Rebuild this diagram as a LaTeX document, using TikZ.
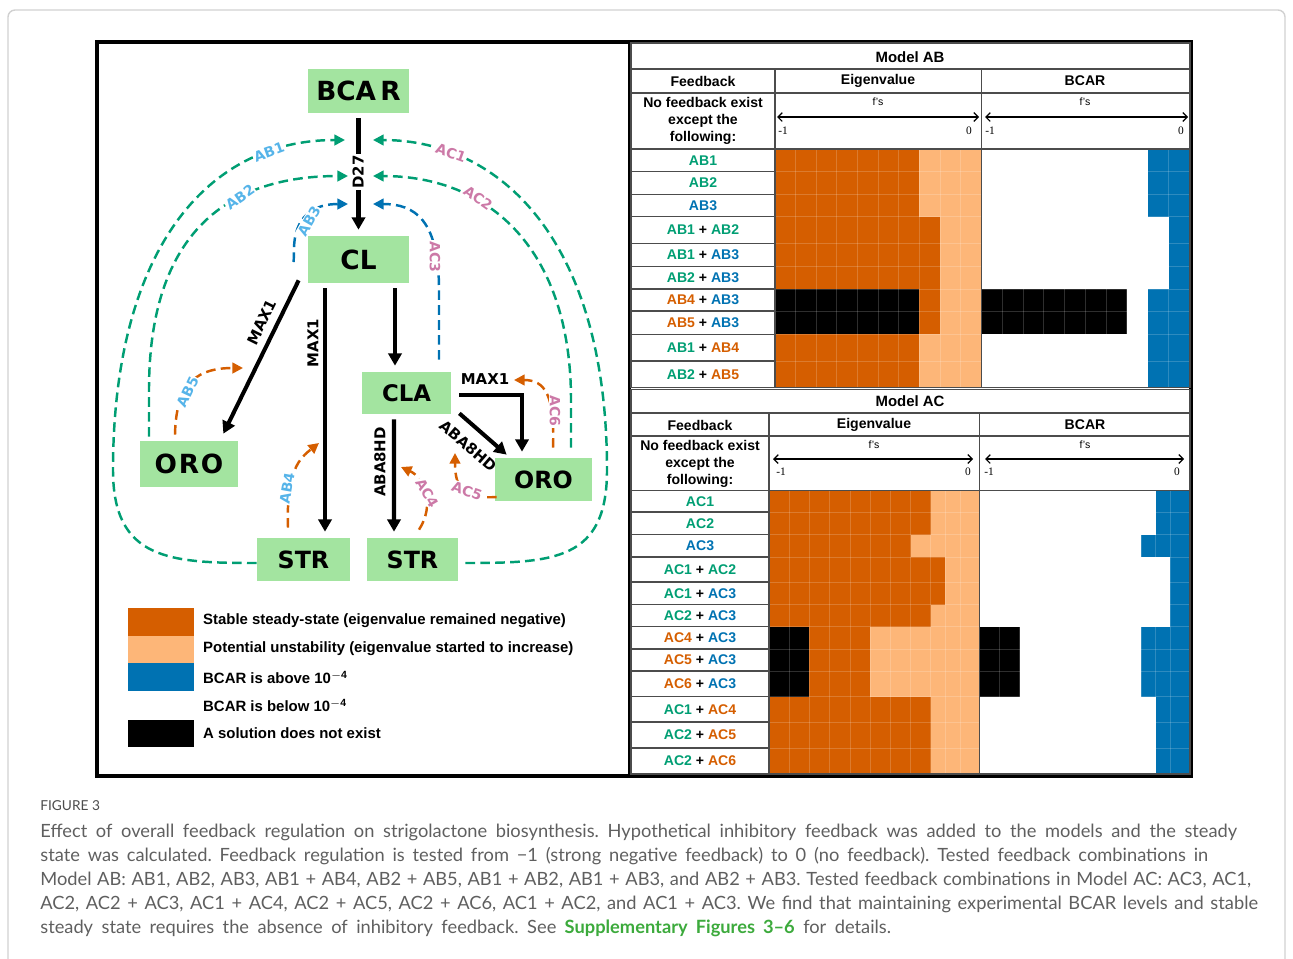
\documentclass[tikz,border=0pt]{standalone}
\usepackage{fontspec}
\setmainfont{Liberation Sans}
\newfontfamily\verdfont{DejaVu Sans}
\newfontfamily\capfont{Lato}
\newfontfamily\numfont{Liberation Serif}
\usepackage{xcolor}
\usepackage{tikz}
\usetikzlibrary{arrows.meta}
\frenchspacing

\definecolor{boxgreen}{RGB}{163,228,160}
\definecolor{fbgreen}{RGB}{0,158,115}
\definecolor{fbblue}{RGB}{0,114,178}
\definecolor{fborange}{RGB}{213,94,0}
\definecolor{lightorange}{RGB}{253,182,120}
\definecolor{lblblue}{RGB}{86,180,233}
\definecolor{lblpink}{RGB}{204,121,167}
\definecolor{capgrey}{RGB}{95,95,95}
\definecolor{linkgreen}{RGB}{60,170,60}

\newcommand{\fbg}[1]{\textcolor{fbgreen}{#1}}
\newcommand{\fbb}[1]{\textcolor{fbblue}{#1}}
\newcommand{\fbo}[1]{\textcolor{fborange}{#1}}

\begin{document}
\begin{tikzpicture}[x=0.02cm, y=-0.02cm,
  species/.style={fill=boxgreen, inner sep=0pt, font=\verdfont\bfseries\fontsize{#1}{#1}\selectfont},
  flux/.style={line width=2.3pt, -{Triangle[length=7pt,width=7.5pt]}},
  fb/.style={line width=1.4pt, dash pattern=on 5.5pt off 3pt, -{Triangle[length=6pt,width=6pt]}},
  enzyme/.style={font=\verdfont\bfseries\fontsize{8.5}{9}\selectfont, inner sep=1pt},
  fblabel/.style={font=\verdfont\bfseries\fontsize{8}{9}\selectfont, fill=white, inner sep=0.6pt},
  tabline/.style={draw=black!70, line width=0.6pt},
  gridln/.style={white, opacity=0.18, line width=0.5pt},
  tabhead/.style={font=\bfseries\fontsize{8}{9.6}\selectfont},
  rowlab/.style={font=\bfseries\fontsize{8}{9}\selectfont},
  fsnote/.style={font=\fontsize{6}{6}\selectfont},
  tick/.style={font=\numfont\fontsize{6.5}{7}\selectfont},
  legtext/.style={anchor=west, font=\bfseries\fontsize{8.5}{10}\selectfont},
  captext/.style={anchor=west, text=capgrey, inner sep=0pt, font=\capfont\fontsize{10.4}{13}\selectfont},
  axis/.style={line width=0.7pt, {Straight Barb[length=2.5pt]}-{Straight Barb[length=2.5pt]}},
]
\useasboundingbox (0,0) rectangle (1293,958);
\clip (0,0) rectangle (1293,958);

% outer frames
\draw[black!18, line width=0.8pt, rounded corners=4pt] (8,10) rectangle (1285,1010);
\draw[line width=1.8pt] (97,42) rectangle (1191,776);
\draw[line width=1.8pt] (629.5,42) -- (629.5,776);

% pathway
\node[species=15, minimum width=2.02cm, minimum height=0.88cm] (bcar) at (358.5,91) {BCA\kern2.5pt R};
\node[species=15, minimum width=2.02cm, minimum height=0.94cm] (cl) at (358.5,259.5) {CL};
\node[species=13, minimum width=1.78cm, minimum height=0.84cm] (cla) at (406.5,393) {CLA};
\node[species=15, minimum width=1.96cm, minimum height=0.92cm] (oroL) at (189,464) {O\kern1pt R\kern1pt O};
\node[species=13.5, minimum width=1.94cm, minimum height=0.86cm] (oroR) at (543.5,479.5) {ORO};
\node[species=13.5, minimum width=1.86cm, minimum height=0.86cm] (strL) at (303.5,559.5) {STR};
\node[species=13.5, minimum width=1.82cm, minimum height=0.86cm] (strR) at (412.5,559.5) {STR};

\draw[flux, shorten <=2.8pt, shorten >=3.4pt] (bcar) -- (cl);
\draw[flux, shorten >=3.4pt] ([xshift=0.73cm,yshift=-0.1cm]cl.south) -- ([xshift=0.73cm]cl.south |- cla.north);
\draw[flux, shorten >=3.4pt] ([xshift=-0.67cm,yshift=-0.1cm]cl.south) -- ([xshift=-0.67cm]cl.south |- strL.north);
\draw[flux] ([shift={(-9,-3)}]cl.south west) -- ([shift={(-15,-7)}]oroL.north east);
\draw[flux, shorten >=3.4pt] ([shift={(-12.5,5)}]cla.south) -- ([xshift=-0.25cm]cla.south |- strR.north);
\draw[flux] ([shift={(8,2)}]cla.east) -| ([shift={(-21.5,-6)}]oroR.north);
\draw[flux] ([shift={(8,-1)}]cla.south east) -- ([shift={(12,-3)}]oroR.north west);

\node[enzyme, fill=white, rotate=90] (d27) at (358,172) {D27};
\node[enzyme, rotate=63.7] (max1a) at (262,322) {MAX1};
\node[enzyme, rotate=90] (max1b) at (313,343) {MAX1};
\node[enzyme, rotate=90] (aba8a) at (380,462) {ABA8HD};
\node[enzyme] (max1c) at (485,379) {MAX1};
\node[enzyme, rotate=-41] (aba8b) at (468,446) {ABA8HD};

% feedback arrows
\coordinate (tab1) at (345,140);
\coordinate (tac1) at (373,140);
\coordinate (tab2) at (348,176);
\coordinate (tac2) at (373,176);
\coordinate (tab3) at (348,204);
\coordinate (tac3) at (373,204);
\coordinate (tab5) at (243,368);
\coordinate (tab4) at (319,443);
\coordinate (tac4) at (401,467);
\coordinate (tac5) at (455,453);
\coordinate (tac6) at (514,380);

\draw[fb, fbgreen] ([yshift=-0.07cm]strL.west) .. controls (170,563) and (113,560) .. (113,470)
  .. controls (113,260) and (200,140) .. (tab1);
\draw[fb, fbgreen] ([shift={(-40,-4)}]oroL.north) -- (149,390) .. controls (149,230) and (230,176) .. (tab2);
\draw[fb, fbgreen] ([shift={(7,3.5)}]strR.east) .. controls (555,563) and (607,560) .. (607,470)
  .. controls (607,240) and (500,140) .. (tac1);
\draw[fb, fbgreen] ([shift={(27.5,-10)}]oroR.north) -- (571,400) .. controls (571,250) and (490,176) .. (tac2);
\draw[fb, fbblue] ([shift={(-14,2.5)}]cl.west) -- (294,250) .. controls (294,215) and (315,204) .. (tab3);
\draw[fb, fbblue] ([shift={(32.5,-12)}]cla.north) -- (439,290) .. controls (439,220) and (415,204) .. (tac3);
\draw[fb, fborange] ([shift={(-14,-6)}]oroL.north) .. controls (176,380) and (200,368) .. (tab5);
\draw[fb, fborange] ([shift={(-15.5,-10)}]strL.north) .. controls (286,470) and (300,458) .. (tab4);
\draw[fb, fborange] ([shift={(6.5,-8)}]strR.north) .. controls (435,505) and (425,478) .. (tac4);
\draw[fb, fborange] ([shift={(2,17.5)}]oroR.west) .. controls (465,499) and (455,490) .. (tac5);
\draw[fb, fborange] ([shift={(9.5,-10)}]oroR.north) .. controls (555,395) and (545,380) .. (tac6);

\node[fblabel, text=lblblue, rotate=20] (lab1) at (269,152) {AB1};
\node[fblabel, text=lblblue, rotate=35] (lab2) at (240,197) {AB2};
\node[fblabel, text=lblblue, rotate=60] (lab3) at (309,221) {AB3};
\node[fblabel, text=lblblue, rotate=80] (lab4) at (287,488) {AB4};
\node[fblabel, text=lblblue, rotate=65] (lab5) at (188,392) {AB5};
\node[fblabel, text=lblpink, rotate=-20] (lac1) at (451,153) {AC1};
\node[fblabel, text=lblpink, rotate=-35] (lac2) at (478,198) {AC2};
\node[fblabel, text=lblpink, rotate=-90] (lac3) at (435,257) {AC3};
\node[fblabel, text=lblpink, rotate=-60] (lac4) at (427,493) {AC4};
\node[fblabel, text=lblpink, rotate=-20] (lac5) at (467,491) {AC5};
\node[fblabel, text=lblpink, rotate=-90] (lac6) at (555,411) {AC6};

% legend
\fill[fborange] (128,608) rectangle (194,636);
\fill[lightorange] (128,636) rectangle (194,663);
\fill[fbblue] (128,663) rectangle (194,691);
\fill[black] (128,720) rectangle (194,747);
\node[legtext] (leg1) at (197,621) {Stable steady-state (eigenvalue remained negative)};
\node[legtext] (leg2) at (197,649) {Potential unstability (eigenvalue started to increase)};
\node[legtext] (leg3) at (197,677) {BCAR is above 10$^{\mathbf{-4}}$};
\node[legtext] (leg4) at (197,705) {BCAR is below 10$^{\mathbf{-4}}$};
\node[legtext] (leg5) at (197,733) {A solution does not exist};

% Model AB heat map
\fill[lightorange] (775,149) rectangle (981.5,387.3);
\fill[fborange] (775,149) rectangle (919,387.3);
\fill[fborange] (919,216.7) rectangle (940,334.3);
\fill[black] (775,289) rectangle (919,334.3);
\fill[fbblue] (1147.5,149) rectangle (1190,387.3);
\fill[white] (1147.5,216.7) rectangle (1168.5,289);
\fill[black] (981.5,289) rectangle (1126.5,334.3);
\foreach \gx in {795.6,816.3,836.9,857.6,878.2,898.9,919,940,960.6,1002.3,1023.1,1043.9,1064.7,1085.5,1106.3,1126.5,1147.5,1168.5}
  \draw[gridln] (\gx,149) -- (\gx,387.3);
\foreach \gy in {171.7,194.3,216.7,243.3,266.7,289,311,334.3,361}
  \draw[gridln] (775,\gy) -- (1190,\gy);

% Model AC heat map
\fill[lightorange] (769,490.7) rectangle (979.5,774);
\fill[fborange] (769,490.7) rectangle (930.7,774);
\fill[lightorange] (910.7,534.7) rectangle (930.7,557);
\fill[fborange] (930.7,557) rectangle (945,604.7);
\fill[lightorange] (870,626.7) rectangle (930.7,696.7);
\fill[black] (769,626.7) rectangle (809.3,696.7);
\fill[fbblue] (1155.7,490.7) rectangle (1190,774);
\fill[fbblue] (1141,534.7) rectangle (1155.7,557);
\fill[white] (1155.7,557) rectangle (1170,626.7);
\fill[fbblue] (1141,626.7) rectangle (1155.7,696.7);
\fill[black] (979.5,626.7) rectangle (1020,696.7);
\foreach \gx in {789.3,809.3,829.5,850,870,890.7,910.7,930.7,945,960,999.5,1019.8,1040,1060.3,1080.5,1100.8,1121,1141,1155.7,1170}
  \draw[gridln] (\gx,490.7) -- (\gx,774);
\foreach \gy in {512,534.7,557,582,604.7,626.7,649,671,696.7,722,748}
  \draw[gridln] (769,\gy) -- (1190,\gy);

% Model AB table
\draw[tabline] (631,43) rectangle (1190,387.5);
\draw[tabline] (631,69) -- (1190,69);
\draw[tabline] (631,93) -- (1190,93);
\draw[tabline] (631,149) -- (1190,149);
\draw[tabline] (775,69) -- (775,387.5);
\draw[tabline] (981.5,69) -- (981.5,387.5);
\foreach \gy in {171.7,194.3,216.7,243.3,266.7,289,311,334.3,361}
  \draw[tabline] (631,\gy) -- (775,\gy);
\node[tabhead, font=\bfseries\fontsize{8.5}{10}\selectfont] (titleAB) at (910,57) {Model AB};
\node[tabhead] (fbAB) at (703,81) {Feedback};
\node[tabhead] (eigAB) at (878,81) {Eigenvalue};
\node[tabhead] (bcarAB) at (1085,81) {BCAR};
\node[tabhead, align=center] (noneAB) at (703,121) {No feedback exist\\except the\\following:};
\node[fsnote] (fsAB1) at (878,102) {f's};
\node[fsnote] (fsAB2) at (1085,102) {f's};
\draw[axis] (777,117) -- (979,117);
\draw[axis] (985,117) -- (1188,117);
\node[tick] (mAB1) at (783,131) {-1};
\node[tick] (zAB1) at (969,131) {0};
\node[tick] (mAB2) at (990,131) {-1};
\node[tick] (zAB2) at (1181,131) {0};
\foreach \y/\txt [count=\i] in {160.4/{\fbg{AB1}}, 183/{\fbg{AB2}}, 205.5/{\fbb{AB3}},
    230/{\fbg{AB1} + \fbg{AB2}}, 255/{\fbg{AB1} + \fbb{AB3}}, 277.9/{\fbg{AB2} + \fbb{AB3}},
    300/{\fbo{AB4} + \fbb{AB3}}, 322.7/{\fbo{AB5} + \fbb{AB3}}, 347.7/{\fbg{AB1} + \fbo{AB4}},
    374.2/{\fbg{AB2} + \fbo{AB5}}}
  \node[rowlab] (rowAB\i) at (703,\y) {\txt};

% Model AC table
\draw[tabline] (631,389.5) rectangle (1190,774);
\draw[tabline] (631,413) -- (1190,413);
\draw[tabline] (631,436) -- (1190,436);
\draw[tabline] (631,490.7) -- (1190,490.7);
\draw[tabline] (769,413) -- (769,774);
\draw[tabline] (979.5,413) -- (979.5,774);
\foreach \gy in {512,534.7,557,582,604.7,626.7,649,671,696.7,722,748}
  \draw[tabline] (631,\gy) -- (769,\gy);
\node[tabhead, font=\bfseries\fontsize{8.5}{10}\selectfont] (titleAC) at (910,401) {Model AC};
\node[tabhead] (fbAC) at (700,425) {Feedback};
\node[tabhead] (eigAC) at (874,425) {Eigenvalue};
\node[tabhead] (bcarAC) at (1085,425) {BCAR};
\node[tabhead, align=center] (noneAC) at (700,464) {No feedback exist\\except the\\following:};
\node[fsnote] (fsAC1) at (874,445) {f's};
\node[fsnote] (fsAC2) at (1085,445) {f's};
\draw[axis] (773,459) -- (973,459);
\draw[axis] (985,459) -- (1184,459);
\node[tick] (mAC1) at (781,472) {-1};
\node[tick] (zAC1) at (968,472) {0};
\node[tick] (mAC2) at (989,472) {-1};
\node[tick] (zAC2) at (1177,472) {0};
\foreach \y/\txt [count=\i] in {501.4/{\fbg{AC1}}, 523.4/{\fbg{AC2}}, 545.9/{\fbb{AC3}},
    569.5/{\fbg{AC1} + \fbg{AC2}}, 593.4/{\fbg{AC1} + \fbb{AC3}}, 615.7/{\fbg{AC2} + \fbb{AC3}},
    637.9/{\fbo{AC4} + \fbb{AC3}}, 660/{\fbo{AC5} + \fbb{AC3}}, 683.9/{\fbo{AC6} + \fbb{AC3}},
    709.4/{\fbg{AC1} + \fbo{AC4}}, 735/{\fbg{AC2} + \fbo{AC5}}, 761/{\fbg{AC2} + \fbo{AC6}}}
  \node[rowlab] (rowAC\i) at (700,\y) {\txt};

% caption
\node[captext, text=black!70, font=\capfont\fontsize{7.8}{9}\selectfont] (fig) at (40,806) {FIGURE 3};
\node[captext] (cap1) at (40,832) {\makebox[23.94cm][s]{Effect of overall feedback regulation on strigolactone biosynthesis. Hypothetical inhibitory feedback was added to the models and the steady}};
\node[captext] (cap2) at (40,856) {\makebox[23.36cm][s]{state was calculated. Feedback regulation is tested from \textminus1 (strong negative feedback) to 0 (no feedback). Tested feedback combinations in}};
\node[captext] (cap3) at (40,880) {\makebox[24.22cm][s]{Model AB: AB1, AB2, AB3, AB1 + AB4, AB2 + AB5, AB1 + AB2, AB1 + AB3, and AB2 + AB3. Tested feedback combinations in Model AC: AC3, AC1,}};
\node[captext] (cap4) at (40,904) {\makebox[24.36cm][s]{AC2, AC2 + AC3, AC1 + AC4, AC2 + AC5, AC2 + AC6, AC1 + AC2, and AC1 + AC3. We find that maintaining experimental BCAR levels and stable}};
\node[captext] (cap5) at (40,928) {\makebox[17.02cm][s]{steady state requires the absence of inhibitory feedback. See \textcolor{linkgreen}{\bfseries Supplementary Figures 3\textendash6} for details.}};
\end{tikzpicture}
\end{document}
